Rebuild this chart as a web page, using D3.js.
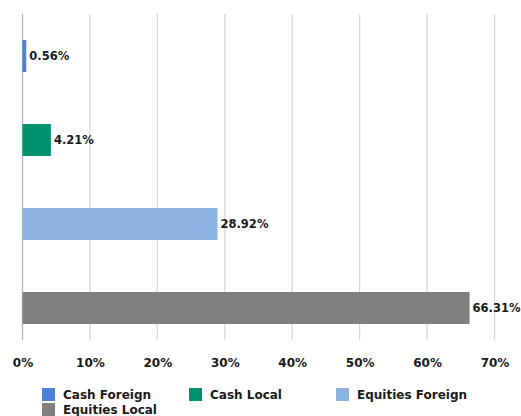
<!DOCTYPE html>
<html>
<head>
<meta charset="utf-8">
<script src="https://cdn.jsdelivr.net/npm/d3@7"></script>
<style>
  body { margin: 0; background: #fff; }
  svg { display: block; }
</style>
</head>
<body>
<div id="chart"></div>
<script>
// data
const categories = [`Cash Foreign`, `Cash Local`, `Equities Foreign`, `Equities Local`];
const values = [0.56, 4.21, 28.92, 66.31];
const colors = [`#4F81D9`, `#00916E`, `#8DB3E2`, `#808080`];
const xTicks = [0, 10, 20, 30, 40, 50, 60, 70];

const width = 521;
const height = 416;
const fontFamily = `"DejaVu Sans", Arial, sans-serif`;
const fontColor = `#1a1a1a`;
const labelFont = `bold 12px ${fontFamily}`;

const xScale = d3.scaleLinear()
    .domain([0, 70])
    .range([22.5, 494.5]);

const yScale = d3.scaleBand()
    .domain(categories)
    .range([14, 350])
    .paddingInner(0.619)
    .paddingOuter(0.31);

const svg = d3.select(`#chart`)
    .append(`svg`)
        .attr(`width`, width)
        .attr(`height`, height);

// gridlines
svg.append(`g`).selectAll(`line`)
    .data(xTicks)
    .join(`line`)
        .attr(`x1`, d => xScale(d))
        .attr(`x2`, d => xScale(d))
        .attr(`y1`, 14)
        .attr(`y2`, 340)
        .attr(`stroke`, d => d === 0 ? `#b3b3b3` : `#d9d9d9`)
        .attr(`stroke-width`, 1.3);

// bars
svg.append(`g`).selectAll(`rect`)
    .data(values)
    .join(`rect`)
        .attr(`x`, xScale(0))
        .attr(`y`, (d, i) => yScale(categories[i]))
        .attr(`width`, d => xScale(d) - xScale(0))
        .attr(`height`, yScale.bandwidth())
        .attr(`fill`, (d, i) => colors[i]);

// value labels
svg.append(`g`).selectAll(`text`)
    .data(values)
    .join(`text`)
        .attr(`x`, d => xScale(d) + 3)
        .attr(`y`, (d, i) => yScale(categories[i]) + yScale.bandwidth() / 2)
        .attr(`dy`, `0.35em`)
        .style(`font`, `bold 11.5px ${fontFamily}`)
        .attr(`fill`, fontColor)
        .text(d => d.toFixed(2) + `%`);

// x axis
const xAxis = svg.append(`g`)
    .attr(`transform`, `translate(0, 340)`)
    .call(d3.axisBottom(xScale).tickValues(xTicks).tickSize(0).tickPadding(18).tickFormat(d => d + `%`));
xAxis.select(`.domain`).remove();
xAxis.selectAll(`text`)
    .style(`font`, labelFont)
    .attr(`fill`, fontColor);

// legend
const legendPos = [[42, 388], [189, 388], [336, 388], [42, 403]];
const legend = svg.append(`g`).selectAll(`g`)
    .data(categories)
    .join(`g`)
        .attr(`transform`, (d, i) => `translate(${legendPos[i][0]},${legendPos[i][1]})`);

legend.append(`rect`)
    .attr(`width`, 13)
    .attr(`height`, 13)
    .attr(`fill`, (d, i) => colors[i]);

legend.append(`text`)
    .attr(`x`, 21)
    .attr(`y`, 6.5)
    .attr(`dy`, `0.35em`)
    .style(`font`, labelFont)
    .attr(`fill`, fontColor)
    .text(d => d);
</script>
</body>
</html>
